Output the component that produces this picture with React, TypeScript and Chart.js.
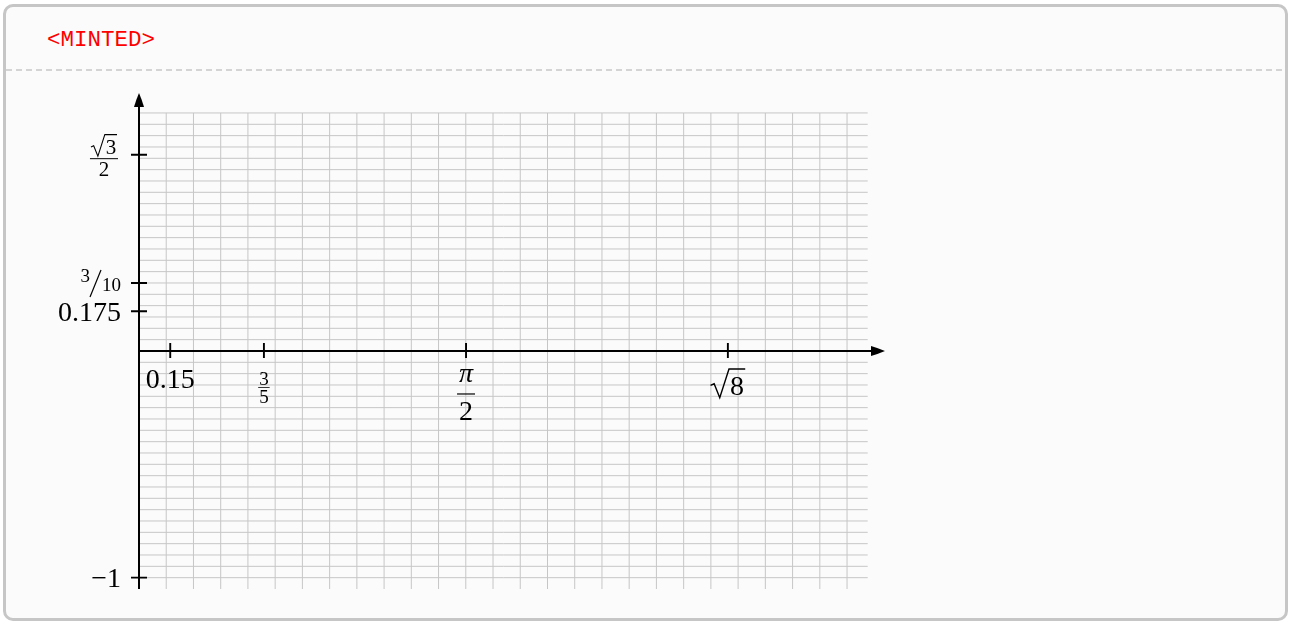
import React, { useEffect, useRef } from "react";
import { Chart, registerables } from "chart.js";

Chart.register(...registerables);

// ---- data -------------------------------------------------------------
const xTickValues = [0.15, 0.6, 1.5708, 2.8284];
const xTickLabels = ["0.15", "\\tfrac{3}{5}", "\\frac{\\pi}{2}", "\\sqrt{8}"];
const yTickValues = [0.866, 0.3, 0.175, -1];
const yTickLabels = ["\\frac{\\sqrt{3}}{2}", "\\nicefrac{3}{10}", "0.175", "-1"];

const xScaleRange = [0, 3.6];
const yScaleRange = [-1.05, 1.15];
const gridXRange = [0, 3.5];
const gridYRange = [-1.05, 1.05];
const gridXStep = 0.1308;
const gridYStep = 0.05;
const xArrowTip = 3.583;
const yArrowTip = 1.138;
const yAxisStart = -1.05;

const W = 1290;
const H = 622;
const SERIF = '"Liberation Serif", "Times New Roman", serif';

function drawRadical(ctx: CanvasRenderingContext2D, content: string, xLeft: number, baseline: number, size: number) {
  ctx.font = `${size}px ${SERIF}`;
  const w = ctx.measureText(content).width;
  const radW = 0.7 * size;
  const top = baseline - 0.93 * size;
  const bot = baseline + 0.1 * size;
  const mid = baseline - 0.4 * size;
  ctx.save();
  ctx.lineWidth = Math.max(1, size * 0.05);
  ctx.lineJoin = "miter";
  ctx.beginPath();
  ctx.moveTo(xLeft, mid + 0.06 * size);
  ctx.lineTo(xLeft + 0.13 * size, mid);
  ctx.lineTo(xLeft + 0.33 * size, bot);
  ctx.lineTo(xLeft + radW - 0.04 * size, top);
  ctx.lineTo(xLeft + radW + w + 0.04 * size, top);
  ctx.stroke();
  ctx.restore();
  ctx.textAlign = "left";
  ctx.fillText(content, xLeft + radW, baseline);
  return radW + w + 0.04 * size;
}

function radicalWidth(ctx: CanvasRenderingContext2D, content: string, size: number) {
  ctx.font = `${size}px ${SERIF}`;
  return 0.7 * size + ctx.measureText(content).width + 0.04 * size;
}

function mathText(s: string) {
  return s.replace(/^-/, "\u2212").replace("\\pi", "\u03c0");
}

function drawXLabel(ctx: CanvasRenderingContext2D, label: string, x: number, axisY: number) {
  let m: RegExpMatchArray | null;
  ctx.fillStyle = "#000";
  ctx.strokeStyle = "#000";
  if ((m = label.match(/^\\tfrac\{(.+)\}\{(.+)\}$/))) {
    const size = 19;
    ctx.font = `${size}px ${SERIF}`;
    ctx.textAlign = "center";
    ctx.fillText(m[1], x, axisY + 34);
    ctx.fillText(m[2], x, axisY + 52);
    const bw = Math.max(ctx.measureText(m[1]).width, ctx.measureText(m[2]).width) + 2;
    ctx.lineWidth = 0.8;
    ctx.beginPath();
    ctx.moveTo(x - bw / 2, axisY + 36.5);
    ctx.lineTo(x + bw / 2, axisY + 36.5);
    ctx.stroke();
  } else if ((m = label.match(/^\\frac\{(.+)\}\{(.+)\}$/))) {
    const size = 28;
    const num = mathText(m[1]);
    ctx.font = `italic ${size}px ${SERIF}`;
    ctx.textAlign = "center";
    ctx.fillText(num, x, axisY + 31);
    ctx.font = `${size}px ${SERIF}`;
    ctx.fillText(m[2], x, axisY + 69);
    ctx.lineWidth = 1.2;
    ctx.beginPath();
    ctx.moveTo(x - 9, axisY + 43);
    ctx.lineTo(x + 9, axisY + 43);
    ctx.stroke();
  } else if ((m = label.match(/^\\sqrt\{(.+)\}$/))) {
    const size = 28;
    const w = radicalWidth(ctx, m[1], size);
    drawRadical(ctx, m[1], x - w / 2, axisY + 44, size);
  } else {
    ctx.font = `28px ${SERIF}`;
    ctx.textAlign = "center";
    ctx.fillText(mathText(label), x, axisY + 37);
  }
}

function drawYLabel(ctx: CanvasRenderingContext2D, label: string, right: number, ty: number) {
  let m: RegExpMatchArray | null;
  ctx.fillStyle = "#000";
  ctx.strokeStyle = "#000";
  if ((m = label.match(/^\\frac\{\\sqrt\{(.+)\}\}\{(.+)\}$/))) {
    const size = 21;
    const w = radicalWidth(ctx, m[1], size);
    const bw = w + 2;
    const cx = right - 3 - bw / 2;
    drawRadical(ctx, m[1], cx - w / 2, ty - 0.5, size);
    ctx.font = `${size}px ${SERIF}`;
    ctx.textAlign = "center";
    ctx.fillText(m[2], cx, ty + 21);
    ctx.lineWidth = 1;
    ctx.beginPath();
    ctx.moveTo(cx - bw / 2, ty + 4);
    ctx.lineTo(cx + bw / 2, ty + 4);
    ctx.stroke();
  } else if ((m = label.match(/^\\nicefrac\{(.+)\}\{(.+)\}$/))) {
    const size = 19;
    ctx.font = `${size}px ${SERIF}`;
    ctx.textAlign = "right";
    ctx.fillText(m[2], right, ty + 8.5);
    const dw = ctx.measureText(m[2]).width;
    const sx = right - dw - 1;
    ctx.lineWidth = 1.2;
    ctx.beginPath();
    ctx.moveTo(sx - 11, ty + 14);
    ctx.lineTo(sx, ty - 13);
    ctx.stroke();
    ctx.fillText(m[1], sx - 11, ty - 0.5);
  } else {
    ctx.font = `28px ${SERIF}`;
    ctx.textAlign = "right";
    ctx.fillText(mathText(label), right, ty + 9.5);
  }
}

const tikzPlugin = {
  id: "tikzAxes",
  beforeDatasetsDraw(chart: any) {
    const ctx: CanvasRenderingContext2D = chart.ctx;
    const xs = chart.scales.x;
    const ys = chart.scales.y;
    const X = (v: number) => xs.getPixelForValue(v);
    const Y = (v: number) => ys.getPixelForValue(v);
    ctx.save();

    // grid
    ctx.strokeStyle = "#c6c6c6";
    ctx.lineWidth = 1;
    const gx0 = X(gridXRange[0]);
    const gx1 = X(gridXRange[1]);
    const gy0 = Y(gridYRange[0]);
    const gy1 = Y(gridYRange[1]);
    ctx.beginPath();
    for (let k = 0; gridXRange[0] + k * gridXStep <= gridXRange[1] - 1e-6; k++) {
      const px = X(gridXRange[0] + k * gridXStep);
      ctx.moveTo(px, gy0);
      ctx.lineTo(px, gy1);
    }
    const nBelow = Math.floor(-gridYRange[0] / gridYStep - 1e-6);
    const nAbove = Math.floor(gridYRange[1] / gridYStep + 1e-6);
    for (let k = -nBelow; k <= nAbove; k++) {
      const py = Y(k * gridYStep);
      ctx.moveTo(gx0, py);
      ctx.lineTo(gx1, py);
    }
    ctx.stroke();

    // axes
    const ax = X(0);
    const ay = Y(0);
    ctx.strokeStyle = "#000";
    ctx.fillStyle = "#000";
    ctx.lineWidth = 2;
    const tipX = X(xArrowTip);
    const tipY = Y(yArrowTip);
    const L = 14;
    const hw = 5;
    ctx.beginPath();
    ctx.moveTo(X(xScaleRange[0]), ay);
    ctx.lineTo(tipX - L + 2, ay);
    ctx.moveTo(ax, Y(yAxisStart));
    ctx.lineTo(ax, tipY + L - 2);
    ctx.stroke();
    // arrow heads (latex style)
    ctx.beginPath();
    ctx.moveTo(tipX, ay);
    ctx.quadraticCurveTo(tipX - L * 0.5, ay - hw * 0.6, tipX - L, ay - hw);
    ctx.lineTo(tipX - L, ay + hw);
    ctx.quadraticCurveTo(tipX - L * 0.5, ay + hw * 0.6, tipX, ay);
    ctx.closePath();
    ctx.fill();
    ctx.beginPath();
    ctx.moveTo(ax, tipY);
    ctx.quadraticCurveTo(ax - hw * 0.6, tipY + L * 0.5, ax - hw, tipY + L);
    ctx.lineTo(ax + hw, tipY + L);
    ctx.quadraticCurveTo(ax + hw * 0.6, tipY + L * 0.5, ax, tipY);
    ctx.closePath();
    ctx.fill();

    // ticks
    ctx.lineWidth = 1.9;
    ctx.beginPath();
    xTickValues.forEach((v) => {
      const px = X(v);
      ctx.moveTo(px, ay - 8);
      ctx.lineTo(px, ay + 7);
    });
    yTickValues.forEach((v) => {
      const py = Y(v);
      ctx.moveTo(ax - 8, py);
      ctx.lineTo(ax + 8, py);
    });
    ctx.stroke();

    // labels
    ctx.textBaseline = "alphabetic";
    xTickValues.forEach((v, i) => drawXLabel(ctx, xTickLabels[i], X(v), ay));
    yTickValues.forEach((v, i) => drawYLabel(ctx, yTickLabels[i], ax - 18, Y(v)));

    ctx.restore();
  },
};

export default function App() {
  const canvasRef = useRef<HTMLCanvasElement | null>(null);

  useEffect(() => {
    const canvas = canvasRef.current;
    if (!canvas) return;
    const pxPerX = 208.2;
    const left = 139;
    const right = W - (left + (xScaleRange[1] - xScaleRange[0]) * pxPerX);
    const chart = new Chart(canvas, {
      type: "scatter",
      data: { datasets: [{ data: [], showLine: false }] },
      options: {
        animation: false,
        responsive: false,
        devicePixelRatio: 1,
        events: [],
        layout: { padding: { left, right, top: 90.3, bottom: 33 } },
        scales: {
          x: { type: "linear", min: xScaleRange[0], max: xScaleRange[1], display: false },
          y: { type: "linear", min: yScaleRange[0], max: yScaleRange[1], display: false },
        },
        plugins: { legend: { display: false }, tooltip: { enabled: false } },
      },
      plugins: [tikzPlugin],
    } as any);
    return () => chart.destroy();
  }, []);

  return (
    <div style={{ position: "fixed", left: 0, top: 0, width: W, height: H, background: "#fff", overflow: "hidden" }}>
      <div
        style={{
          position: "absolute",
          left: 3,
          top: 4,
          width: 1285,
          height: 617,
          boxSizing: "border-box",
          border: "3px solid #c6c6c6",
          borderRadius: 10,
          background: "#fbfbfb",
        }}
      />
      <div
        style={{
          position: "absolute",
          left: 47,
          top: 29,
          fontFamily: '"Liberation Mono", "DejaVu Sans Mono", monospace',
          fontSize: 22.5,
          lineHeight: "22px",
          color: "#ff0000",
          whiteSpace: "pre",
        }}
      >
        {"<MINTED>"}
      </div>
      <div
        style={{
          position: "absolute",
          left: 6,
          top: 69,
          width: 1279,
          height: 2,
          background: "repeating-linear-gradient(90deg, #d4d4d4 0px, #d4d4d4 6px, transparent 6px, transparent 10px)",
        }}
      />
      <canvas
        ref={canvasRef}
        width={W}
        height={H}
        style={{ position: "absolute", left: 0, top: 0, width: W, height: H, display: "block" }}
      />
    </div>
  );
}
